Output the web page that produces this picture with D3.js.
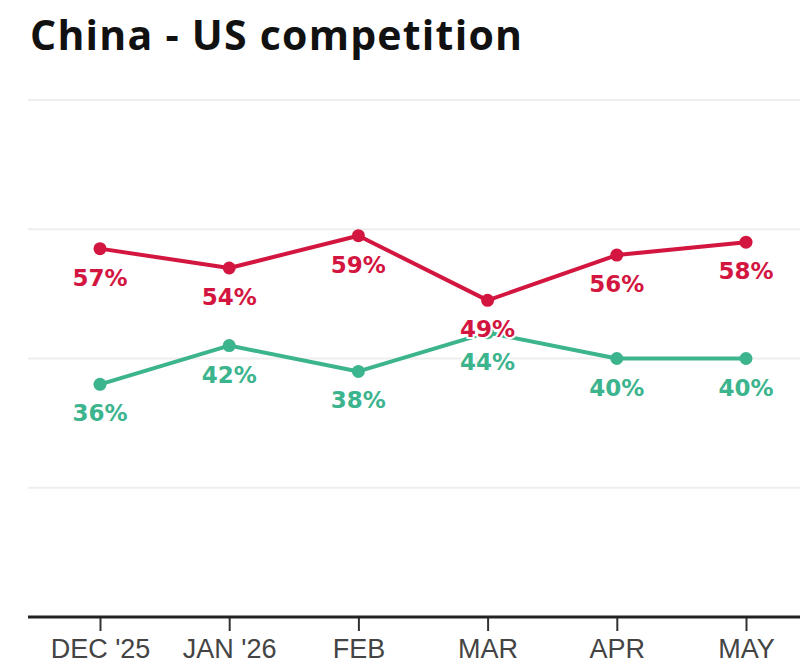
<!DOCTYPE html>
<html>
<head>
<meta charset="utf-8">
<script src="https://cdn.jsdelivr.net/npm/d3@7"></script>
<style>
  html, body { margin: 0; padding: 0; background: #fff; }
  svg { display: block; }
</style>
</head>
<body>
<svg id="chart" width="800" height="664"></svg>
<script>
const months = ["DEC '25", "JAN '26", "FEB", "MAR", "APR", "MAY"];
const redValues = [57, 54, 59, 49, 56, 58];
const greenValues = [36, 42, 38, 44, 40, 40];
const gridTicks = [20, 40, 60, 80];
const title = "China - US competition";

(function () {
const svg = d3.select("#chart");
const mLeft = 28, mRight = 800, mTop = 100, mBottom = 617;

const x = d3.scalePoint().domain(months).range([100, 746]);
const y = d3.scaleLinear().domain([0, 80]).range([mBottom, mTop]);

svg.append("text")
  .attr("x", 30).attr("y", 50)
  .attr("font-family", "'Open Sans', sans-serif")
  .attr("font-weight", 700)
  .attr("font-size", 41)
  .attr("textLength", 492)
  .attr("lengthAdjust", "spacing")
  .attr("fill", "#111")
  .text(title);

// gridlines
svg.append("g").selectAll("line").data(gridTicks).join("line")
  .attr("x1", mLeft).attr("x2", mRight)
  .attr("y1", d => y(d)).attr("y2", d => y(d))
  .attr("stroke", "#eeeeee").attr("stroke-width", 2);

// x axis
const axis = svg.append("g").attr("transform", `translate(0,${mBottom})`)
  .call(d3.axisBottom(x).tickSize(14).tickSizeOuter(0).tickPadding(8));
axis.select(".domain").remove();
axis.append("line").attr("x1", mLeft).attr("x2", mRight).attr("y1", 0).attr("y2", 0)
  .attr("stroke", "#222").attr("stroke-width", 3);
axis.selectAll(".tick line").attr("stroke", "#333").attr("stroke-width", 2);
axis.selectAll(".tick text")
  .attr("font-family", "'Liberation Sans', Arial, sans-serif")
  .attr("font-size", 27)
  .attr("fill", "#444");

const series = [
  { values: redValues, color: "#d3163f" },
  { values: greenValues, color: "#3cb48d" }
];

const line = d3.line().x((d, i) => x(months[i])).y(d => y(d));

series.forEach(s => {
  svg.append("path").datum(s.values)
    .attr("d", line)
    .attr("fill", "none")
    .attr("stroke", s.color)
    .attr("stroke-width", 4)
    .attr("stroke-linejoin", "round");
  svg.append("g").selectAll("circle").data(s.values).join("circle")
    .attr("cx", (d, i) => x(months[i]))
    .attr("cy", d => y(d))
    .attr("r", 6.5)
    .attr("fill", s.color);
});

series.forEach(s => {
  svg.append("g").selectAll("text").data(s.values).join("text")
    .attr("x", (d, i) => x(months[i]))
    .attr("y", d => y(d) + 37)
    .attr("text-anchor", "middle")
    .attr("font-family", "'DejaVu Sans', sans-serif")
    .attr("font-weight", 700)
    .attr("font-size", 23)
    .attr("fill", s.color)
    .attr("stroke", "#fff")
    .attr("stroke-width", 4)
    .attr("paint-order", "stroke")
    .text(d => d + "%");
});
})();
</script>
</body>
</html>
